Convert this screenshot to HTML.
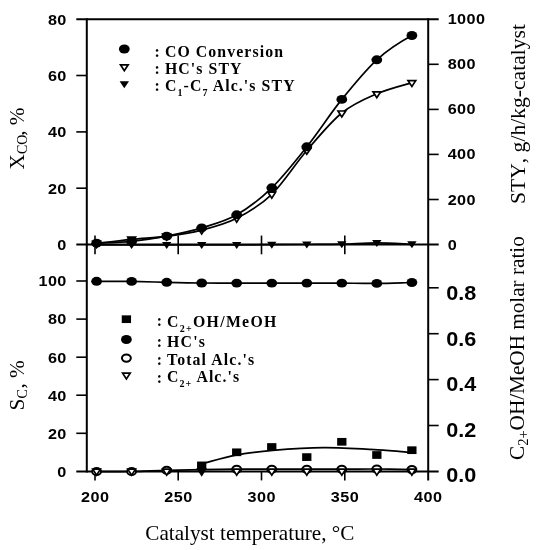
<!DOCTYPE html><html><head><meta charset="utf-8"><title>chart</title><style>
html,body{margin:0;padding:0;background:#fff;}
svg{display:block;will-change:transform;}
.tk{font-family:"Liberation Sans",sans-serif;font-weight:bold;font-size:15px;letter-spacing:0.4px;fill:#000;}
.tk2{font-family:"Liberation Sans",sans-serif;font-weight:bold;font-size:20px;fill:#000;}
.lg{font-family:"Liberation Serif",serif;font-weight:bold;font-size:15.8px;letter-spacing:1px;fill:#000;}
.lb{font-family:"Liberation Serif",serif;font-size:21.2px;fill:#000;font-kerning:none;}
.ax{stroke:#000;stroke-width:2;fill:none;}.ax .t{stroke-width:1.6;}
.cv{stroke:#000;stroke-width:1.7;fill:none;}
</style></head><body>
<svg width="537" height="550" viewBox="0 0 537 550">
<rect width="537" height="550" fill="#fff"/>
<g class="ax">
<line x1="86.8" y1="18.2" x2="86.8" y2="472.4"/>
<line x1="428.2" y1="18.2" x2="428.2" y2="480.4"/>
<line x1="76.3" y1="19.2" x2="438.7" y2="19.2"/>
<line x1="76.3" y1="244.6" x2="438.7" y2="244.6"/>
<line x1="76.3" y1="471.4" x2="438.7" y2="471.4"/>
<line class="t" x1="76.3" y1="75.5" x2="86.8" y2="75.5"/>
<line class="t" x1="76.3" y1="131.9" x2="86.8" y2="131.9"/>
<line class="t" x1="76.3" y1="188.2" x2="86.8" y2="188.2"/>
<line class="t" x1="428.2" y1="64.3" x2="438.7" y2="64.3"/>
<line class="t" x1="428.2" y1="109.4" x2="438.7" y2="109.4"/>
<line class="t" x1="428.2" y1="154.4" x2="438.7" y2="154.4"/>
<line class="t" x1="428.2" y1="199.5" x2="438.7" y2="199.5"/>
<line class="t" x1="76.3" y1="281.0" x2="86.8" y2="281.0"/>
<line class="t" x1="76.3" y1="319.1" x2="86.8" y2="319.1"/>
<line class="t" x1="76.3" y1="357.2" x2="86.8" y2="357.2"/>
<line class="t" x1="76.3" y1="395.2" x2="86.8" y2="395.2"/>
<line class="t" x1="76.3" y1="433.3" x2="86.8" y2="433.3"/>
<line class="t" x1="428.2" y1="287.8" x2="438.7" y2="287.8"/>
<line class="t" x1="428.2" y1="333.7" x2="438.7" y2="333.7"/>
<line class="t" x1="428.2" y1="379.6" x2="438.7" y2="379.6"/>
<line class="t" x1="428.2" y1="425.5" x2="438.7" y2="425.5"/>
<line class="t" x1="95.0" y1="235.6" x2="95.0" y2="254.29999999999998"/>
<line class="t" x1="95.0" y1="471.4" x2="95.0" y2="480.4"/>
<line class="t" x1="178.2" y1="235.6" x2="178.2" y2="254.29999999999998"/>
<line class="t" x1="178.2" y1="471.4" x2="178.2" y2="480.4"/>
<line class="t" x1="261.5" y1="235.6" x2="261.5" y2="254.29999999999998"/>
<line class="t" x1="261.5" y1="471.4" x2="261.5" y2="480.4"/>
<line class="t" x1="344.8" y1="235.6" x2="344.8" y2="254.29999999999998"/>
<line class="t" x1="344.8" y1="471.4" x2="344.8" y2="480.4"/>
</g>
<g class="cv">
<path d="M96.6 243.2 C102.4 242.9 120.0 242.6 131.6 241.4 C143.3 240.2 155.0 238.4 166.7 236.2 C178.3 233.9 190.0 231.5 201.7 227.9 C213.4 224.3 225.0 221.5 236.7 214.8 C248.4 208.1 260.1 199.1 271.8 187.8 C283.4 176.5 295.1 161.5 306.8 146.8 C318.5 132.1 330.1 113.9 341.8 99.4 C353.5 84.9 365.2 70.5 376.8 59.8 C388.5 49.1 400.2 41.8 411.9 35.5"/>
<path d="M96.6 243.4 C102.4 242.7 120.0 240.5 131.6 239.3 C143.3 238.1 155.0 237.8 166.7 236.3 C178.3 234.8 190.0 233.1 201.7 230.1 C213.4 227.1 225.0 224.3 236.7 218.3 C248.4 212.3 260.1 205.6 271.8 194.3 C283.4 183.0 295.1 164.1 306.8 150.5 C318.5 136.9 330.1 122.5 341.8 113.0 C353.5 103.5 365.2 98.8 376.8 93.8 C388.5 88.8 406.0 84.5 411.9 82.7"/>
<path d="M96.6 244.9 C102.4 244.9 120.0 244.9 131.6 244.9 C143.3 244.9 155.0 244.9 166.7 244.9 C178.3 244.9 190.0 244.9 201.7 244.9 C213.4 244.9 225.0 244.9 236.7 244.9 C248.4 244.9 260.1 244.8 271.8 244.7 C283.4 244.6 295.1 244.6 306.8 244.5 C318.5 244.4 330.1 244.5 341.8 244.2 C353.5 243.9 365.2 242.9 376.8 242.9 C388.5 242.9 406.0 244.1 411.9 244.3"/>
<path d="M96.6 281.3 C102.4 281.3 120.0 281.2 131.6 281.4 C143.3 281.6 155.0 282.0 166.7 282.3 C178.3 282.6 190.0 282.9 201.7 283.0 C213.4 283.1 225.0 283.1 236.7 283.1 C248.4 283.1 260.1 283.1 271.8 283.1 C283.4 283.1 295.1 283.1 306.8 283.1 C318.5 283.1 330.1 283.1 341.8 283.1 C353.5 283.2 365.2 283.5 376.8 283.4 C388.5 283.3 406.0 282.6 411.9 282.5"/>
<path d="M96.6 471.5 C102.4 471.5 120.0 471.7 131.6 471.5 C143.3 471.3 155.0 470.6 166.7 470.3 C178.3 470.0 190.0 469.8 201.7 469.6 C213.4 469.4 225.0 469.3 236.7 469.2 C248.4 469.1 260.1 469.2 271.8 469.2 C283.4 469.2 295.1 469.2 306.8 469.2 C318.5 469.2 330.1 469.2 341.8 469.2 C353.5 469.2 365.2 468.9 376.8 469.0 C388.5 469.1 406.0 469.5 411.9 469.6"/>
<path d="M202.5 463.6 C208.2 462.2 225.3 457.1 237.0 454.9 C248.7 452.7 258.2 451.6 272.7 450.4 C287.2 449.2 306.5 447.8 324.0 447.7 C341.5 447.6 363.1 449.1 377.7 449.9 C392.3 450.7 405.9 452.2 411.5 452.6"/>
</g>
<path d="M91.9 241.9 L101.3 241.9 L96.6 248.9 Z" fill="#000" stroke="#000" stroke-width="0" stroke-linejoin="miter"/>
<path d="M126.9 241.9 L136.3 241.9 L131.6 248.9 Z" fill="#000" stroke="#000" stroke-width="0" stroke-linejoin="miter"/>
<path d="M162.0 241.9 L171.4 241.9 L166.7 248.9 Z" fill="#000" stroke="#000" stroke-width="0" stroke-linejoin="miter"/>
<path d="M197.0 241.9 L206.4 241.9 L201.7 248.9 Z" fill="#000" stroke="#000" stroke-width="0" stroke-linejoin="miter"/>
<path d="M232.0 241.9 L241.4 241.9 L236.7 248.9 Z" fill="#000" stroke="#000" stroke-width="0" stroke-linejoin="miter"/>
<path d="M267.1 241.7 L276.4 241.7 L271.8 248.7 Z" fill="#000" stroke="#000" stroke-width="0" stroke-linejoin="miter"/>
<path d="M302.1 241.5 L311.5 241.5 L306.8 248.5 Z" fill="#000" stroke="#000" stroke-width="0" stroke-linejoin="miter"/>
<path d="M337.1 241.2 L346.5 241.2 L341.8 248.2 Z" fill="#000" stroke="#000" stroke-width="0" stroke-linejoin="miter"/>
<path d="M372.1 239.9 L381.5 239.9 L376.8 246.9 Z" fill="#000" stroke="#000" stroke-width="0" stroke-linejoin="miter"/>
<path d="M407.2 241.3 L416.6 241.3 L411.9 248.3 Z" fill="#000" stroke="#000" stroke-width="0" stroke-linejoin="miter"/>
<path d="M92.8 241.4 L100.4 241.4 L96.6 247.2 Z" fill="#fff" stroke="#000" stroke-width="1.7" stroke-linejoin="miter"/>
<path d="M127.8 237.2 L135.5 237.2 L131.6 243.1 Z" fill="#fff" stroke="#000" stroke-width="1.7" stroke-linejoin="miter"/>
<path d="M162.8 234.2 L170.5 234.2 L166.7 240.1 Z" fill="#fff" stroke="#000" stroke-width="1.7" stroke-linejoin="miter"/>
<path d="M197.8 228.1 L205.5 228.1 L201.7 233.9 Z" fill="#fff" stroke="#000" stroke-width="1.7" stroke-linejoin="miter"/>
<path d="M232.9 216.2 L240.6 216.2 L236.7 222.1 Z" fill="#fff" stroke="#000" stroke-width="1.7" stroke-linejoin="miter"/>
<path d="M267.9 192.2 L275.6 192.2 L271.8 198.1 Z" fill="#fff" stroke="#000" stroke-width="1.7" stroke-linejoin="miter"/>
<path d="M302.9 148.5 L310.6 148.5 L306.8 154.3 Z" fill="#fff" stroke="#000" stroke-width="1.7" stroke-linejoin="miter"/>
<path d="M338.0 111.0 L345.7 111.0 L341.8 116.9 Z" fill="#fff" stroke="#000" stroke-width="1.7" stroke-linejoin="miter"/>
<path d="M373.0 91.8 L380.7 91.8 L376.8 97.7 Z" fill="#fff" stroke="#000" stroke-width="1.7" stroke-linejoin="miter"/>
<path d="M408.0 80.6 L415.7 80.6 L411.9 86.5 Z" fill="#fff" stroke="#000" stroke-width="1.7" stroke-linejoin="miter"/>
<ellipse cx="96.6" cy="243.2" rx="5.4" ry="4.45" fill="#000" stroke="#000" stroke-width="0"/>
<ellipse cx="131.6" cy="241.4" rx="5.4" ry="4.45" fill="#000" stroke="#000" stroke-width="0"/>
<ellipse cx="166.7" cy="236.2" rx="5.4" ry="4.45" fill="#000" stroke="#000" stroke-width="0"/>
<ellipse cx="201.7" cy="227.9" rx="5.4" ry="4.45" fill="#000" stroke="#000" stroke-width="0"/>
<ellipse cx="236.7" cy="214.8" rx="5.4" ry="4.45" fill="#000" stroke="#000" stroke-width="0"/>
<ellipse cx="271.8" cy="187.8" rx="5.4" ry="4.45" fill="#000" stroke="#000" stroke-width="0"/>
<ellipse cx="306.8" cy="146.8" rx="5.4" ry="4.45" fill="#000" stroke="#000" stroke-width="0"/>
<ellipse cx="341.8" cy="99.4" rx="5.4" ry="4.45" fill="#000" stroke="#000" stroke-width="0"/>
<ellipse cx="376.8" cy="59.8" rx="5.4" ry="4.45" fill="#000" stroke="#000" stroke-width="0"/>
<ellipse cx="411.9" cy="35.5" rx="5.4" ry="4.45" fill="#000" stroke="#000" stroke-width="0"/>
<ellipse cx="96.6" cy="471.5" rx="4.45" ry="3.55" fill="#fff" stroke="#000" stroke-width="2.0"/>
<ellipse cx="131.6" cy="471.5" rx="4.45" ry="3.55" fill="#fff" stroke="#000" stroke-width="2.0"/>
<ellipse cx="166.7" cy="470.3" rx="4.45" ry="3.55" fill="#fff" stroke="#000" stroke-width="2.0"/>
<ellipse cx="236.7" cy="469.2" rx="4.45" ry="3.55" fill="#fff" stroke="#000" stroke-width="2.0"/>
<ellipse cx="271.8" cy="469.2" rx="4.45" ry="3.55" fill="#fff" stroke="#000" stroke-width="2.0"/>
<ellipse cx="306.8" cy="469.2" rx="4.45" ry="3.55" fill="#fff" stroke="#000" stroke-width="2.0"/>
<ellipse cx="341.8" cy="469.2" rx="4.45" ry="3.55" fill="#fff" stroke="#000" stroke-width="2.0"/>
<ellipse cx="376.8" cy="469.0" rx="4.45" ry="3.55" fill="#fff" stroke="#000" stroke-width="2.0"/>
<ellipse cx="411.9" cy="469.6" rx="4.45" ry="3.55" fill="#fff" stroke="#000" stroke-width="2.0"/>
<path d="M92.8 469.2 L100.4 469.2 L96.6 475.1 Z" fill="#fff" stroke="#000" stroke-width="1.7" stroke-linejoin="miter"/>
<path d="M127.8 469.2 L135.5 469.2 L131.6 475.1 Z" fill="#fff" stroke="#000" stroke-width="1.7" stroke-linejoin="miter"/>
<path d="M162.8 469.2 L170.5 469.2 L166.7 475.1 Z" fill="#fff" stroke="#000" stroke-width="1.7" stroke-linejoin="miter"/>
<path d="M197.8 469.2 L205.5 469.2 L201.7 475.1 Z" fill="#000" stroke="#000" stroke-width="1.7" stroke-linejoin="miter"/>
<path d="M232.9 469.2 L240.6 469.2 L236.7 475.1 Z" fill="#fff" stroke="#000" stroke-width="1.7" stroke-linejoin="miter"/>
<path d="M267.9 469.2 L275.6 469.2 L271.8 475.1 Z" fill="#fff" stroke="#000" stroke-width="1.7" stroke-linejoin="miter"/>
<path d="M302.9 469.2 L310.6 469.2 L306.8 475.1 Z" fill="#fff" stroke="#000" stroke-width="1.7" stroke-linejoin="miter"/>
<path d="M338.0 469.2 L345.7 469.2 L341.8 475.1 Z" fill="#fff" stroke="#000" stroke-width="1.7" stroke-linejoin="miter"/>
<path d="M373.0 469.2 L380.7 469.2 L376.8 475.1 Z" fill="#fff" stroke="#000" stroke-width="1.7" stroke-linejoin="miter"/>
<path d="M408.0 469.2 L415.7 469.2 L411.9 475.1 Z" fill="#fff" stroke="#000" stroke-width="1.7" stroke-linejoin="miter"/>
<rect x="197.04" y="461.55" width="9.3" height="7.7" fill="#000"/>
<rect x="232.07" y="448.45" width="9.3" height="7.7" fill="#000"/>
<rect x="267.10" y="443.15" width="9.3" height="7.7" fill="#000"/>
<rect x="302.13" y="453.25" width="9.3" height="7.7" fill="#000"/>
<rect x="337.16" y="437.95" width="9.3" height="7.7" fill="#000"/>
<rect x="372.19" y="451.15" width="9.3" height="7.7" fill="#000"/>
<rect x="407.22" y="446.35" width="9.3" height="7.7" fill="#000"/>
<ellipse cx="96.6" cy="281.3" rx="5.4" ry="4.45" fill="#000" stroke="#000" stroke-width="0"/>
<ellipse cx="131.6" cy="281.4" rx="5.4" ry="4.45" fill="#000" stroke="#000" stroke-width="0"/>
<ellipse cx="166.7" cy="282.3" rx="5.4" ry="4.45" fill="#000" stroke="#000" stroke-width="0"/>
<ellipse cx="201.7" cy="283.0" rx="5.4" ry="4.45" fill="#000" stroke="#000" stroke-width="0"/>
<ellipse cx="236.7" cy="283.1" rx="5.4" ry="4.45" fill="#000" stroke="#000" stroke-width="0"/>
<ellipse cx="271.8" cy="283.1" rx="5.4" ry="4.45" fill="#000" stroke="#000" stroke-width="0"/>
<ellipse cx="306.8" cy="283.1" rx="5.4" ry="4.45" fill="#000" stroke="#000" stroke-width="0"/>
<ellipse cx="341.8" cy="283.1" rx="5.4" ry="4.45" fill="#000" stroke="#000" stroke-width="0"/>
<ellipse cx="376.8" cy="283.4" rx="5.4" ry="4.45" fill="#000" stroke="#000" stroke-width="0"/>
<ellipse cx="411.9" cy="282.5" rx="5.4" ry="4.45" fill="#000" stroke="#000" stroke-width="0"/>
<ellipse cx="124.3" cy="49.0" rx="5.4" ry="4.45" fill="#000" stroke="#000" stroke-width="0"/>
<path d="M120.5 64.8 L128.2 64.8 L124.3 70.8 Z" fill="#fff" stroke="#000" stroke-width="1.7" stroke-linejoin="miter"/>
<path d="M119.6 81.2 L129.0 81.2 L124.3 88.2 Z" fill="#000" stroke="#000" stroke-width="0" stroke-linejoin="miter"/>
<text class="lg" x="154.6" y="56.8">:</text>
<text class="lg" x="164.9" y="56.8" style="letter-spacing:1.1px">CO Conversion</text>
<text class="lg" x="154.6" y="73.6">:</text>
<text class="lg" x="164.9" y="73.6" style="letter-spacing:1.1px">HC's STY</text>
<text class="lg" x="154.6" y="91.3">:</text>
<text class="lg" x="164.9" y="91.3" style="letter-spacing:1.1px">C<tspan font-size="10" dy="4.8">1</tspan><tspan dy="-4.8">-C</tspan><tspan font-size="10" dy="4.8">7</tspan><tspan dy="-4.8"> Alc.'s STY</tspan></text>
<rect x="121.75" y="315.35" width="9.3" height="7.7" fill="#000"/>
<ellipse cx="126.4" cy="339.5" rx="5.4" ry="4.45" fill="#000" stroke="#000" stroke-width="0"/>
<ellipse cx="126.4" cy="358.1" rx="4.45" ry="3.55" fill="#fff" stroke="#000" stroke-width="2.0"/>
<path d="M122.6 373.1 L130.2 373.1 L126.4 378.9 Z" fill="#fff" stroke="#000" stroke-width="1.7" stroke-linejoin="miter"/>
<text class="lg" x="156.7" y="325.5">:</text>
<text class="lg" x="167.0" y="326.7" style="letter-spacing:1.3px">C<tspan font-size="10" dy="4.8">2+</tspan><tspan dy="-4.8">OH/MeOH</tspan></text>
<text class="lg" x="156.7" y="347.2">:</text>
<text class="lg" x="167.0" y="347.2" style="letter-spacing:1.25px">HC's</text>
<text class="lg" x="156.7" y="365.0">:</text>
<text class="lg" x="167.0" y="365.0" style="letter-spacing:1.12px">Total Alc.'s</text>
<text class="lg" x="156.7" y="382.9">:</text>
<text class="lg" x="167.0" y="382.3" style="letter-spacing:1.06px">C<tspan font-size="10" dy="4.8">2+</tspan><tspan dy="-4.8"> Alc.'s</tspan></text>
<text class="tk" transform="translate(47.90,24.5) scale(1.08,1)">80</text>
<text class="tk" transform="translate(47.90,80.8) scale(1.08,1)">60</text>
<text class="tk" transform="translate(47.90,137.2) scale(1.08,1)">40</text>
<text class="tk" transform="translate(47.90,193.6) scale(1.08,1)">20</text>
<text class="tk" transform="translate(57.34,249.9) scale(1.08,1)">0</text>
<text class="tk" transform="translate(38.46,286.3) scale(1.08,1)">100</text>
<text class="tk" transform="translate(47.90,324.4) scale(1.08,1)">80</text>
<text class="tk" transform="translate(47.90,362.5) scale(1.08,1)">60</text>
<text class="tk" transform="translate(47.90,400.5) scale(1.08,1)">40</text>
<text class="tk" transform="translate(47.90,438.6) scale(1.08,1)">20</text>
<text class="tk" transform="translate(57.34,476.7) scale(1.08,1)">0</text>
<text class="tk" transform="translate(447.65,24.2) scale(1.08,1)">1000</text>
<text class="tk" transform="translate(447.65,69.3) scale(1.08,1)">800</text>
<text class="tk" transform="translate(447.65,114.4) scale(1.08,1)">600</text>
<text class="tk" transform="translate(447.65,159.4) scale(1.08,1)">400</text>
<text class="tk" transform="translate(447.65,204.5) scale(1.08,1)">200</text>
<text class="tk" transform="translate(447.65,249.6) scale(1.08,1)">0</text>
<text class="tk2" transform="translate(446.20,300.4) scale(1.08,1)">0.8</text>
<text class="tk2" transform="translate(446.20,345.8) scale(1.08,1)">0.6</text>
<text class="tk2" transform="translate(446.20,391.2) scale(1.08,1)">0.4</text>
<text class="tk2" transform="translate(446.20,436.6) scale(1.08,1)">0.2</text>
<text class="tk2" transform="translate(446.20,482.0) scale(1.08,1)">0.0</text>
<text class="tk" transform="translate(81.06,501.5) scale(1.08,1)">200</text>
<text class="tk" transform="translate(164.31,501.5) scale(1.08,1)">250</text>
<text class="tk" transform="translate(247.56,501.5) scale(1.08,1)">300</text>
<text class="tk" transform="translate(330.81,501.5) scale(1.08,1)">350</text>
<text class="tk" transform="translate(414.06,501.5) scale(1.08,1)">400</text>
<text class="lb" x="145.3" y="540.3">Catalyst temperature, °C</text>
<text class="lb" transform="translate(23.5,169.4) rotate(-90)">X<tspan font-size="14" dy="3">CO</tspan><tspan dy="-3" dx="-1.2">, %</tspan></text>
<text class="lb" transform="translate(23.5,410.4) rotate(-90)">S<tspan font-size="14" dy="3">C</tspan><tspan dy="-3" dx="0.7">, %</tspan></text>
<text class="lb" style="font-size:21.6px" transform="translate(525.4,204.0) rotate(-90)">STY, g/h/kg-catalyst</text>
<text class="lb" transform="translate(524,460.0) rotate(-90)">C<tspan font-size="14.5" dy="4.2">2+</tspan><tspan dy="-4.2">OH/MeOH molar ratio</tspan></text>
</svg></body></html>
